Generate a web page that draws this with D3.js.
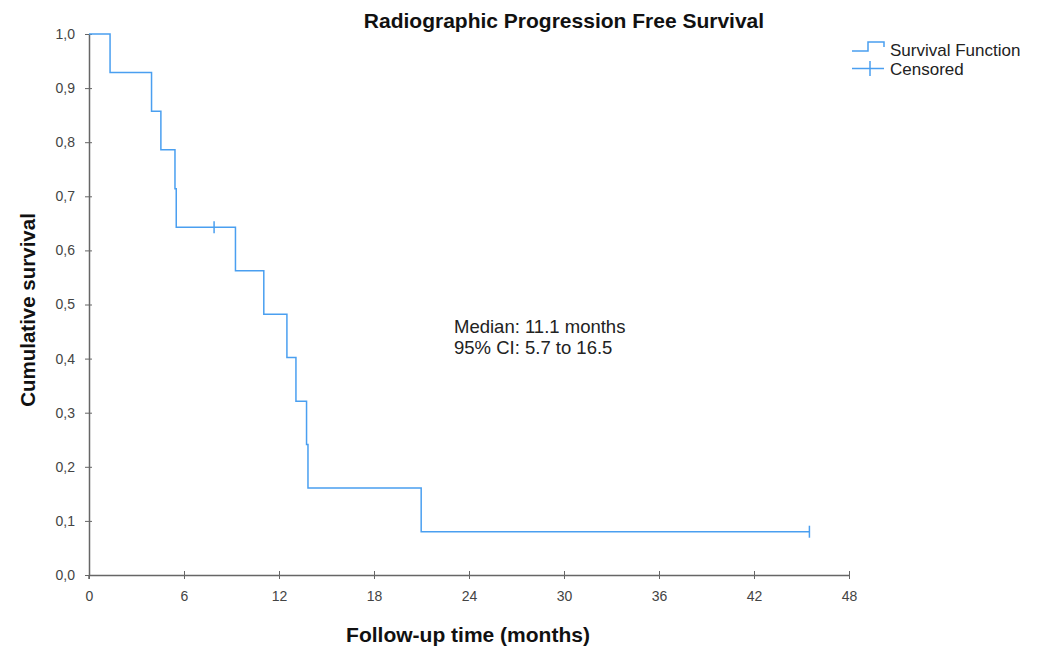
<!DOCTYPE html>
<html>
<head>
<meta charset="utf-8">
<script src="https://cdn.jsdelivr.net/npm/d3@7"></script>
<style>
  body { margin: 0; background: #fff; }
  text { font-family: "Liberation Sans", Arial, sans-serif; }
</style>
</head>
<body>
<div id="chart_area"></div>
<script>
// Kaplan-Meier steps (months, cumulative survival)
const stepTimes = [0, 1.33, 3.95, 4.54, 5.43, 5.51, 9.25, 11.04, 12.5, 13.07, 13.74, 13.83, 20.98];
const stepSurvival = [1.0, 0.929, 0.857, 0.786, 0.714, 0.643, 0.5625, 0.482, 0.402, 0.321, 0.241, 0.161, 0.080];
const censoredTimes = [7.9, 45.5];
const endTime = 45.5;
const xTicks = [0, 6, 12, 18, 24, 30, 36, 42, 48];
const yTicks = [0, 0.1, 0.2, 0.3, 0.4, 0.5, 0.6, 0.7, 0.8, 0.9, 1.0];
const legendLabels = ['Survival Function', 'Censored'];
const noteLines = ['Median: 11.1 months', '95% CI: 5.7 to 16.5'];

const width = 1037;
const height = 647;
const margin = { top: 34, right: 188, bottom: 72, left: 89 };
const lineColor = '#4a9ff0';
const axisColor = '#666';

const svg = d3
  .select('#chart_area')
  .append('svg')
  .attr('width', width)
  .attr('height', height);

// scales
const x = d3.scaleLinear().domain([0, 48]).range([margin.left, width - margin.right]);
const y = d3.scaleLinear().domain([0, 1]).range([height - margin.bottom, margin.top]);

// axes
const fmt = d => d3.format('.1f')(d).replace('.', ',');
const xAxis = svg
  .append('g')
  .attr('transform', 'translate(0,' + y(0) + ')')
  .call(d3.axisBottom(x).tickValues(xTicks).tickSize(4).tickSizeOuter(0).tickPadding(12));
const yAxis = svg
  .append('g')
  .attr('transform', 'translate(' + x(0) + ',0)')
  .call(d3.axisLeft(y).tickValues(yTicks).tickFormat(fmt).tickSize(4).tickSizeOuter(0).tickPadding(10));

[xAxis, yAxis].forEach(function(g) {
  g.select('.domain').attr('stroke', axisColor).attr('stroke-width', 1.5);
  g.selectAll('.tick line').attr('stroke', axisColor);
  g.selectAll('.tick text')
    .attr('fill', '#444')
    .attr('font-size', '14px')
    .attr('font-family', '"Liberation Sans", Arial, sans-serif');
});
// crossing ticks
xAxis.selectAll('.tick line').attr('y1', -4);
yAxis.selectAll('.tick line').attr('x1', 3);
// extend the y axis a bit below the x axis, as in the original
yAxis.append('line')
  .attr('x1', 0).attr('x2', 0)
  .attr('y1', y(0)).attr('y2', y(0) + 4)
  .attr('stroke', axisColor).attr('stroke-width', 1.5);

// step curve
const points = [];
stepTimes.forEach(function(t, i) {
  if (i > 0) points.push([t, stepSurvival[i - 1]]);
  points.push([t, stepSurvival[i]]);
});
points.push([endTime, stepSurvival[stepSurvival.length - 1]]);

const line = d3.line().x(d => x(d[0])).y(d => y(d[1]));
svg.append('path')
  .datum(points)
  .attr('fill', 'none')
  .attr('stroke', lineColor)
  .attr('stroke-width', 1.5)
  .attr('d', line);

// censored marks
function survivalAt(t) {
  let s = 1;
  stepTimes.forEach(function(st, i) {
    if (st <= t) s = stepSurvival[i];
  });
  return s;
}
svg.selectAll('line.censor')
  .data(censoredTimes)
  .enter()
  .append('line')
  .attr('class', 'censor')
  .attr('x1', d => x(d)).attr('x2', d => x(d))
  .attr('y1', d => y(survivalAt(d)) - 6)
  .attr('y2', d => y(survivalAt(d)) + 6)
  .attr('stroke', lineColor)
  .attr('stroke-width', 1.5);

// title
svg.append('text')
  .attr('x', 564)
  .attr('y', 28)
  .attr('text-anchor', 'middle')
  .attr('font-size', '21px')
  .attr('font-weight', 'bold')
  .attr('fill', '#111')
  .text('Radiographic Progression Free Survival');

// axis labels
svg.append('text')
  .attr('x', 468)
  .attr('y', 642)
  .attr('text-anchor', 'middle')
  .attr('font-size', '21px')
  .attr('font-weight', 'bold')
  .attr('fill', '#111')
  .text('Follow-up time (months)');
svg.append('text')
  .attr('transform', 'translate(35,' + 310 + ') rotate(-90)')
  .attr('text-anchor', 'middle')
  .attr('font-size', '20.5px')
  .attr('font-weight', 'bold')
  .attr('fill', '#111')
  .text('Cumulative survival');

// annotation
svg.selectAll('text.note')
  .data(noteLines)
  .enter()
  .append('text')
  .attr('class', 'note')
  .attr('x', 454)
  .attr('y', (d, i) => 333 + i * 21)
  .attr('font-size', '18.5px')
  .attr('fill', '#222')
  .text(d => d);

// legend
const legend = svg.append('g').attr('transform', 'translate(852,0)');
legend.append('path')
  .attr('d', 'M0,51 H16 V42 H32 V47')
  .attr('fill', 'none')
  .attr('stroke', lineColor)
  .attr('stroke-width', 1.5);
legend.append('line')
  .attr('x1', 0).attr('x2', 32).attr('y1', 68.5).attr('y2', 68.5)
  .attr('stroke', lineColor).attr('stroke-width', 1.5);
legend.append('line')
  .attr('x1', 18).attr('x2', 18).attr('y1', 61).attr('y2', 76)
  .attr('stroke', lineColor).attr('stroke-width', 1.5);
legend.selectAll('text')
  .data(legendLabels)
  .enter()
  .append('text')
  .attr('x', 38)
  .attr('y', (d, i) => 55.5 + i * 19.5)
  .attr('font-size', '17px')
  .attr('fill', '#222')
  .text(d => d);
</script>
</body>
</html>
